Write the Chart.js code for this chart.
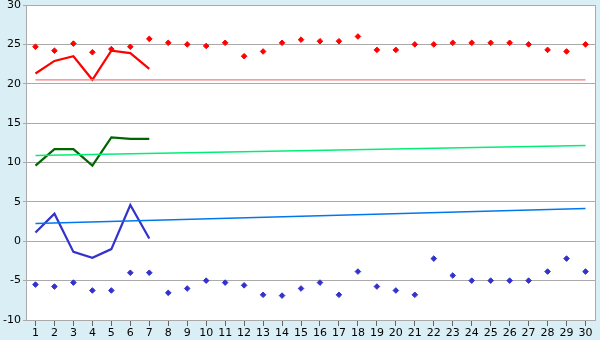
<!DOCTYPE html>
<html>
<head>
<meta charset="utf-8">
<script src="https://cdn.jsdelivr.net/npm/chart.js@4/dist/chart.umd.min.js"></script>
<style>
  html, body { margin: 0; padding: 0; background: #daeff5; }
  #wrap { width: 600px; height: 340px; }
</style>
</head>
<body>
<div id="wrap"><canvas id="tempChart" width="600" height="340"></canvas></div>
<script>
// Days of the month
const days = ['1','2','3','4','5','6','7','8','9','10','11','12','13','14','15',
              '16','17','18','19','20','21','22','23','24','25','26','27','28','29','30'];

// Diamonds: long-term highs / lows per day
const maxPoints = [24.7, 24.2, 25.1, 24.0, 24.4, 24.7, 25.7, 25.2, 25.0, 24.8,
                   25.2, 23.5, 24.1, 25.2, 25.6, 25.4, 25.4, 26.0, 24.3, 24.3,
                   25.0, 25.0, 25.2, 25.2, 25.2, 25.2, 25.0, 24.3, 24.1, 25.0];
const minPoints = [-5.5, -5.75, -5.25, -6.25, -6.25, -4.0, -4.0, -6.55, -6.0, -5.0,
                   -5.25, -5.6, -6.8, -6.9, -6.0, -5.25, -6.8, -3.85, -5.75, -6.25,
                   -6.8, -2.2, -4.35, -5.0, -5.0, -5.0, -5.0, -3.85, -2.2, -3.85];

// Measured so far (first week)
const maxLine = [21.3, 22.9, 23.5, 20.5, 24.2, 23.9, 21.9];
const avgLine = [9.6, 11.7, 11.7, 9.6, 13.2, 13.0, 13.0];
const minLine = [1.1, 3.5, -1.35, -2.1, -1.0, 4.6, 0.35];

// Trend lines: value on day 1 and day 30
const maxTrend = [20.5, 20.5];
const avgTrend = [10.9, 12.15];
const minTrend = [2.25, 4.15];

const yTicks = { min: -10, max: 30, step: 5 };

function endpoints(pair) {
    return days.map((d, i) => i === 0 ? pair[0] : (i === days.length - 1 ? pair[1] : null));
}

const chartFrame = {
    id: 'chartFrame',
    beforeDraw(chart) {
        const { ctx, chartArea: a } = chart;
        ctx.save();
        ctx.fillStyle = '#daeff5';
        ctx.fillRect(0, 0, chart.width, chart.height);
        ctx.fillStyle = '#ffffff';
        ctx.fillRect(a.left, a.top, a.right - a.left, a.bottom - a.top);
        ctx.restore();
    },
    afterDraw(chart) {
        const { ctx, chartArea: a } = chart;
        ctx.save();
        ctx.strokeStyle = '#aaaaaa';
        ctx.lineWidth = 1;
        ctx.strokeRect(Math.round(a.left) + 0.5, Math.round(a.top) + 0.5,
                       Math.round(a.right - a.left), Math.round(a.bottom - a.top));
        ctx.restore();
    }
};

const line = (data, color, width) => ({
    data: data, borderColor: color, backgroundColor: color, borderWidth: width,
    pointRadius: 0, fill: false, tension: 0, spanGaps: true
});
const dots = (data, color) => ({
    data: data, showLine: false, pointStyle: 'rectRot', pointRadius: 2.8,
    backgroundColor: color, borderColor: color, borderWidth: 1
});

const ctx = document.getElementById('tempChart').getContext('2d');
const tempChart = new Chart(ctx, {
    type: 'line',
    data: {
        labels: days,
        datasets: [
            line(endpoints(maxTrend), '#ee7f7f', 1.2),
            line(endpoints(avgTrend), '#00ee77', 1.5),
            line(endpoints(minTrend), '#0077ee', 1.5),
            line(maxLine, '#ff0000', 2.2),
            line(avgLine, '#006600', 2.2),
            line(minLine, '#3333cc', 2.2),
            dots(maxPoints, '#ff0000'),
            dots(minPoints, '#3333cc')
        ]
    },
    plugins: [chartFrame],
    options: {
        responsive: false,
        animation: false,
        layout: { padding: { top: 5, right: 5, left: 0, bottom: 0 } },
        plugins: { legend: { display: false }, tooltip: { enabled: false } },
        scales: {
            x: {
                offset: true,
                grid: { drawOnChartArea: false, drawTicks: true, tickLength: 6, color: '#666666' },
                border: { color: '#aaaaaa' },
                ticks: { color: '#000', padding: 1, maxRotation: 0, autoSkip: false,
                         font: { family: 'DejaVu Sans', size: 11 } },
                afterFit(scale) { scale.height = 20; }
            },
            y: {
                min: yTicks.min, max: yTicks.max,
                grid: { color: '#aaaaaa', tickLength: 3 },
                border: { color: '#aaaaaa' },
                ticks: { stepSize: yTicks.step, color: '#000', padding: 2,
                         font: { family: 'DejaVu Sans', size: 11 } },
                afterFit(scale) { scale.width = 26; scale.paddingTop = 0; scale.paddingBottom = 0; }
            }
        }
    }
});
</script>
</body>
</html>
